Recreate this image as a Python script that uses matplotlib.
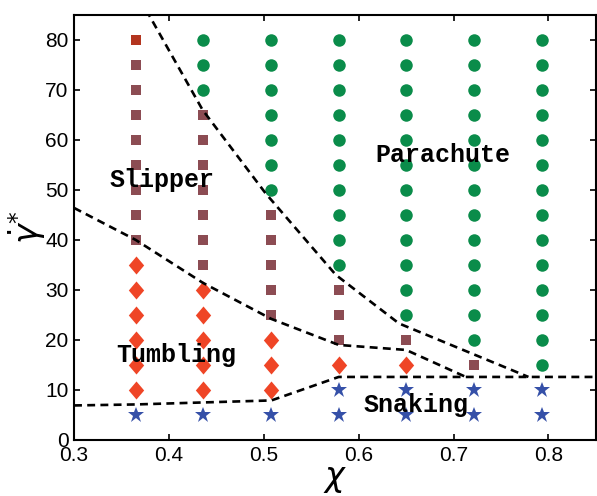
import matplotlib
matplotlib.use("Agg")
import matplotlib.pyplot as plt
from matplotlib.path import Path

# grid of simulated points: one string per chi column, one char per gamma level
# N = snaking, T = tumbling, S = slipper, R = slipper (odd one), P = parachute
chi_values = [0.365, 0.436, 0.508, 0.579, 0.650, 0.722, 0.793]
gamma_levels = [5, 10, 15, 20, 25, 30, 35, 40, 45, 50, 55, 60, 65, 70, 75, 80]
phase_grid = [
    "NTTTTTTSSSSSSSSR",
    "NTTTTTSSSSSSSPPP",
    "NTTTSSSSSPPPPPPP",
    "NNTSSSPPPPPPPPPP",
    "NNTSPPPPPPPPPPPP",
    "NNSPPPPPPPPPPPPP",
    "NNPPPPPPPPPPPPPP",
]

# phase boundaries (dashed)
slip_para_chi = [0.376, 0.4355, 0.502, 0.576, 0.6425, 0.779]
slip_para_gamma = [86.0, 66.0, 49.3, 33.0, 23.3, 12.6]
slip_tumb_chi = [0.30, 0.365, 0.436, 0.508, 0.579, 0.650, 0.713]
slip_tumb_gamma = [46.4, 40.0, 31.4, 24.2, 19.0, 18.0, 12.6]
tumb_snake_chi = [0.30, 0.365, 0.436, 0.508, 0.579, 0.85]
tumb_snake_gamma = [6.9, 7.1, 7.5, 7.9, 12.6, 12.6]

regions = ["Slipper", "Parachute", "Tumbling", "Snaking"]
region_chi = [0.393, 0.689, 0.408, 0.660]
region_gamma = [52.0, 57.0, 17.0, 7.0]

# fat diamond, a bit taller than wide
_DIAMOND = Path([(0, 1), (0.85, 0), (0, -1), (-0.85, 0), (0, 1)],
                [Path.MOVETO, Path.LINETO, Path.LINETO, Path.LINETO, Path.CLOSEPOLY])

_STYLE = {
    "N": dict(marker="*", color="#3550a8", ms=12),
    "T": dict(marker=_DIAMOND, color="#ef4526", ms=13),
    "S": dict(marker="s", color="#8c4c53", ms=7.2),
    "R": dict(marker="s", color="#b3351f", ms=7.2),
    "P": dict(marker="o", color="#0a8c4a", ms=9),
}

fig = plt.figure(figsize=(5.97, 4.96), dpi=100)
ax = fig.add_axes([0.124, 0.113, 0.874, 0.857])

for chi, col in zip(chi_values, phase_grid):
    for g, ph in zip(gamma_levels, col):
        st = _STYLE[ph]
        ax.plot(chi, g, linestyle="none", marker=st["marker"], color=st["color"],
                markersize=st["ms"], markeredgewidth=0, zorder=2)

for xs, ys in [(slip_para_chi, slip_para_gamma),
               (slip_tumb_chi, slip_tumb_gamma),
               (tumb_snake_chi, tumb_snake_gamma)]:
    ax.plot(xs, ys, color="black", linewidth=1.9, dashes=(3.0, 2.0), zorder=3)

for name, x, y in zip(regions, region_chi, region_gamma):
    ax.text(x, y, name, fontsize=18, family="Liberation Mono", fontweight="bold",
            ha="center", va="center", zorder=4)

ax.set_xlim(0.3, 0.85)
ax.set_ylim(0, 85)
ax.set_xticks([0.3, 0.4, 0.5, 0.6, 0.7, 0.8])
ax.set_yticks([0, 10, 20, 30, 40, 50, 60, 70, 80])
ax.tick_params(direction="in", length=4, width=1.2, top=True, right=True,
               labelsize=15, pad=4)
for lab in ax.get_xticklabels() + ax.get_yticklabels():
    lab.set_family("Liberation Sans")
for sp in ax.spines.values():
    sp.set_linewidth(1.5)

ax.set_xlabel(r"$\chi$", fontsize=24, labelpad=-2)
ax.set_ylabel(r"$\dot{\gamma}^{*}$", fontsize=24, labelpad=-2)

fig.savefig("out.png", dpi=100)
